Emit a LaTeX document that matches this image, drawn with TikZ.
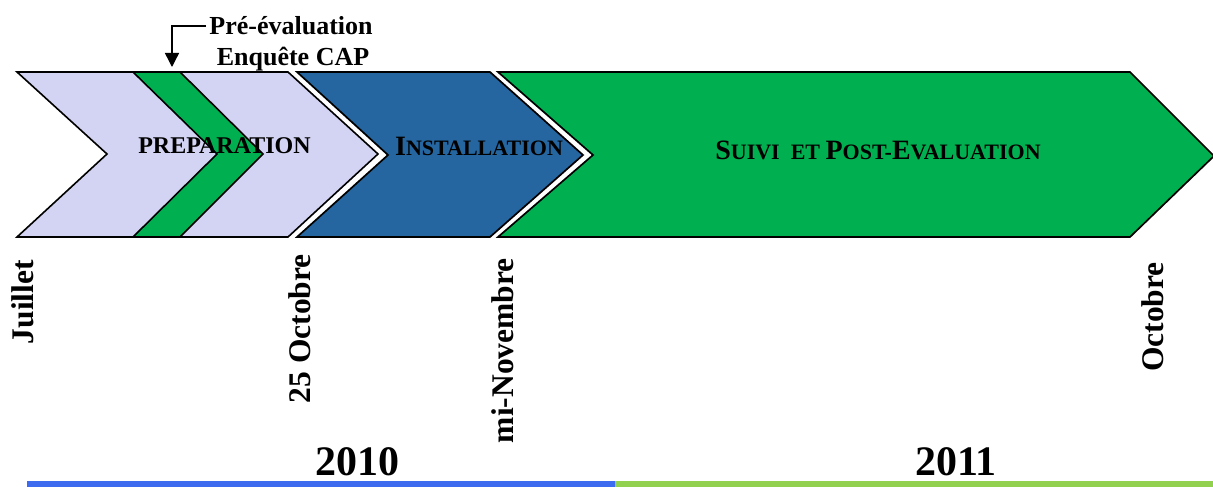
\documentclass[tikz,border=0pt]{standalone}
\usepackage{fontspec}
\setmainfont{Liberation Serif}
\usetikzlibrary{arrows.meta}
\definecolor{lav}{RGB}{211,211,243}
\definecolor{pgreen}{RGB}{0,176,80}
\definecolor{pblue}{RGB}{37,102,161}
\definecolor{barblue}{RGB}{61,107,240}
\definecolor{bargreen}{RGB}{146,208,80}
\newcommand{\fakesc}[2]{{\fontsize{28}{30}\selectfont #1}{\fontsize{22}{24}\selectfont #2}}
\begin{document}
\begin{tikzpicture}[x=1pt,y=-1pt,
  lavshape/.style={fill=#1,draw=black,line width=1.6pt,line join=miter},
  haloshape/.style={fill=#1,draw=black,line width=1.7pt,preaction={draw=white,line width=7pt}},
  phase/.style={font=\bfseries\fontsize{24}{28}\selectfont,inner sep=0pt,anchor=base},
  scphase/.style={font=\bfseries,inner sep=0pt,anchor=base},
  datelbl/.style={font=\bfseries\fontsize{31.5}{34}\selectfont,rotate=90,anchor=base east,inner sep=0pt},
  yearlbl/.style={font=\bfseries\fontsize{42}{46}\selectfont,anchor=base,inner sep=0pt},
  notelbl/.style={font=\bfseries\fontsize{26}{30}\selectfont,anchor=base,inner sep=0pt},
  pointer/.style={draw=black,line width=1.4pt,-{Triangle[width=14pt,length=14pt]}}]
\useasboundingbox (0,0) rectangle (1213,487);
% preparation chevron
\draw[lavshape=lav] (17,72) -- (288,72) -- (378,154) -- (288,237) -- (17,237) -- (107,154) -- cycle;
\draw[lavshape=pgreen] (133,72) -- (180,72) -- (263,154) -- (180,237) -- (133,237) -- (217,154) -- cycle;
% installation chevron
\draw[haloshape=pblue] (297,72) -- (490,72) -- (583,155) -- (490,237) -- (297,237) -- (388,155) -- cycle;
% suivi chevron
\draw[haloshape=pgreen] (498,72) -- (1130,72) -- (1214,156) -- (1130,237) -- (498,237) -- (593,155) -- cycle;
% phase labels
\node[phase] (prep) at (224.5,153) {PREPARATION};
\node[scphase] (inst) at (479,155) {\fakesc{I}{NSTALLATION}};
\node[scphase] (suivi) at (878,159) {\fakesc{S}{UIVI\ \ ET\ }\fakesc{P}{OST-}\fakesc{E}{VALUATION}};
% note
\node[notelbl] (pre1) at (291,35) {Pré-évaluation};
\node[notelbl] (pre2) at (293,66) {Enquête CAP};
\coordinate (bandtop) at (172,67);
\draw[pointer] ([xshift=-3pt]pre1.west) -| (bandtop);
% dates
\node[datelbl] (d1) at (33,260) {Juillet};
\node[datelbl] (d2) at (310,254) {25 Octobre};
\node[datelbl] (d3) at (513,258) {mi-Novembre};
\node[datelbl] (d4) at (1163,262) {Octobre};
% years
\node[yearlbl] (y1) at (357,475) {2010};
\node[yearlbl] (y2) at (956,475) {2011};
\fill[barblue] (27,480.5) rectangle (615,487);
\fill[bargreen] (615,480.5) rectangle (1213,487);
\end{tikzpicture}
\end{document}
